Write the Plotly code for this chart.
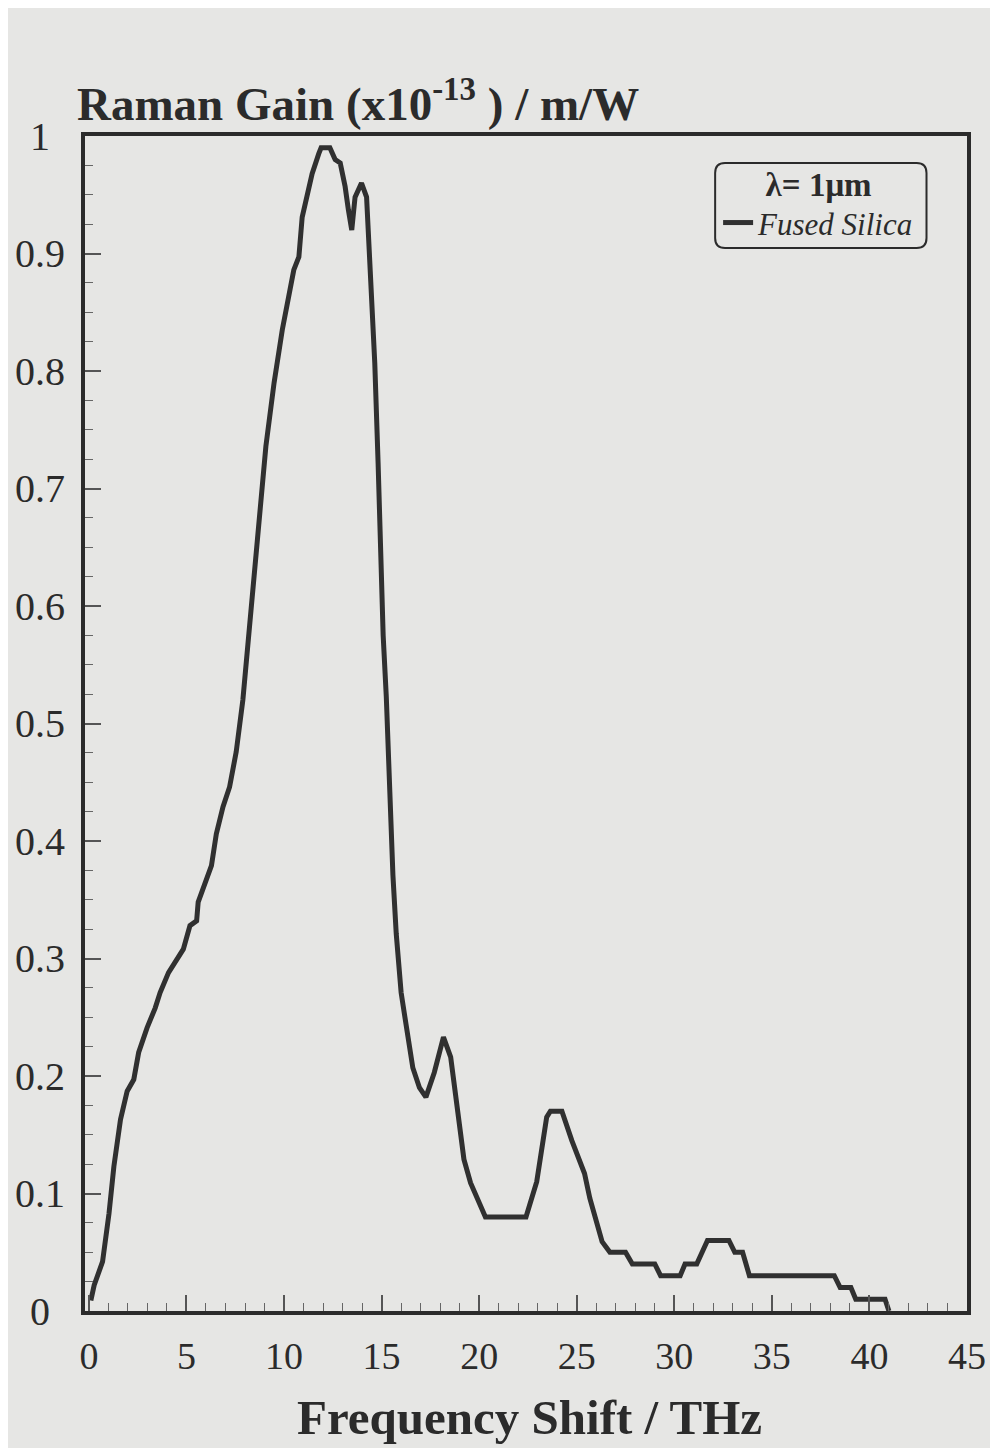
import plotly.graph_objects as go

# ---- data ----
freq_thz = [0.1, 0.27, 0.7, 1.03, 1.28, 1.62, 1.96, 2.3, 2.55, 2.98, 3.4, 3.65, 4.08, 4.5, 4.84,
            5.18, 5.52, 5.6, 5.94, 6.28, 6.53, 6.87, 7.21, 7.55, 7.89, 8.39, 8.73, 9.07, 9.49,
            9.91, 10.5, 10.76, 10.93, 11.44, 11.78, 11.9, 12.35, 12.62, 12.88, 13.13, 13.3,
            13.47, 13.64, 13.97, 14.23, 14.31, 14.48, 14.65, 14.82, 14.96, 15.08, 15.24, 15.42,
            15.58, 15.75, 16.0, 16.26, 16.6, 16.94, 17.27, 17.7, 18.17, 18.54, 18.88, 19.22,
            19.56, 19.98, 20.32, 22.4, 22.95, 23.46, 23.65, 24.24, 24.75, 25.4, 25.67, 26.3,
            26.7, 27.5, 27.85, 29.0, 29.3, 30.3, 30.55, 31.15, 31.4, 31.7, 32.8, 33.1, 33.5,
            33.85, 38.2, 38.5, 39.05, 39.3, 40.8, 41.0]
raman_gain = [0.009, 0.022, 0.042, 0.083, 0.123, 0.163, 0.187, 0.197, 0.22, 0.241, 0.258, 0.271,
              0.288, 0.30, 0.308, 0.328, 0.332, 0.348, 0.365, 0.379, 0.406, 0.429, 0.446, 0.476,
              0.52, 0.608, 0.679, 0.736, 0.79, 0.835, 0.886, 0.897, 0.931, 0.968, 0.985, 0.99,
              0.99, 0.98, 0.977, 0.957, 0.937, 0.92, 0.948, 0.96, 0.948, 0.92, 0.877, 0.807,
              0.722, 0.64, 0.575, 0.523, 0.438, 0.371, 0.321, 0.271, 0.243, 0.207, 0.19, 0.182,
              0.203, 0.233, 0.216, 0.173, 0.129, 0.109, 0.092, 0.08, 0.08, 0.11, 0.165, 0.17,
              0.17, 0.145, 0.117, 0.096, 0.059, 0.05, 0.05, 0.04, 0.04, 0.03, 0.03, 0.04, 0.04,
              0.05, 0.06, 0.06, 0.05, 0.05, 0.03, 0.03, 0.02, 0.02, 0.01, 0.01, 0.0]
series_name = "Fused Silica"
wavelength_label = "λ= 1μm"
x_tick_vals = [0, 5, 10, 15, 20, 25, 30, 35, 40, 45]
y_tick_vals = [0, 0.1, 0.2, 0.3, 0.4, 0.5, 0.6, 0.7, 0.8, 0.9, 1]
y_tick_text = ["0", "0.1", "0.2", "0.3", "0.4", "0.5", "0.6", "0.7", "0.8", "0.9", "1"]

FONT = "Liberation Serif"
INK = "#2b2b2b"
BG = "#e6e6e4"

fig = go.Figure()
fig.add_trace(go.Scatter(
    x=freq_thz, y=raman_gain, mode="lines", name=f"<i>{series_name}</i>",
    line=dict(color="#303030", width=5),
))

# the page has an 8px body margin, so the figure is laid out 8px smaller/shifted
OFF = 8
W, H = 998 - OFF, 1448 - OFF
L, T = 85 - OFF, 136 - OFF
pw, ph = 893, 1175
R, B = W - L - pw, H - T - ph

def px_x(p):  # page pixel -> paper x
    return (p - 85) / pw

def px_y(p):  # page pixel -> paper y
    return (1311 - p) / ph

fig.update_layout(
    width=W, height=H,
    margin=dict(l=L, r=R, t=T, b=B),
    paper_bgcolor=BG, plot_bgcolor=BG,
    font=dict(family=FONT, color=INK),
    showlegend=True,
    legend=dict(
        x=px_x(726), y=px_y(153),
        xanchor="left", yanchor="top",
        bgcolor="rgba(0,0,0,0)", borderwidth=0,
        title=dict(text=f"<b>{wavelength_label}</b>", side="top center",
                   font=dict(family=FONT, size=33, color=INK)),
        font=dict(family=FONT, size=31, color=INK),
        itemwidth=30, tracegroupgap=0,
    ),
)

fig.update_xaxes(
    range=[-0.2, 45], showgrid=False, zeroline=False,
    showline=True, linewidth=4, linecolor=INK, mirror=True,
    tickvals=x_tick_vals, ticks="inside", ticklen=16, tickwidth=1.5, tickcolor="#555",
    tickfont=dict(family=FONT, size=38, color=INK), ticklabelstandoff=8,
    minor=dict(dtick=1, ticks="inside", ticklen=8, tickwidth=1.2, tickcolor="#666"),
)
fig.update_yaxes(
    range=[0, 1], showgrid=False, zeroline=False,
    showline=True, linewidth=4, linecolor=INK, mirror=True,
    tickvals=y_tick_vals, ticks="inside", ticklen=16, tickwidth=1.5, tickcolor="#555",
    showticklabels=False,
    minor=dict(dtick=0.025, ticks="inside", ticklen=8, tickwidth=1.2, tickcolor="#666"),
)

# y tick labels, centred like the reference
for v, t in zip(y_tick_vals, y_tick_text):
    fig.add_annotation(x=0, xref="paper", y=v, yref="y", text=t, showarrow=False,
                       xanchor="center", yanchor="middle", xshift=-45,
                       font=dict(family=FONT, size=40, color=INK))

# axis titles
fig.add_annotation(x=0, xref="paper", y=1, yref="paper", xanchor="left", yanchor="bottom",
                   xshift=-10, yshift=4, showarrow=False,
                   text="<b>Raman Gain (x10<sup>-13</sup> ) / m/W</b>",
                   font=dict(family=FONT, size=47, color=INK))
fig.add_annotation(x=px_x(535), xref="paper", y=0, yref="paper", xanchor="center",
                   yanchor="middle", yshift=-106, showarrow=False,
                   text="<b>Frequency Shift / THz</b>",
                   font=dict(family=FONT, size=49, color=INK))

# rounded legend frame
x0, x1 = px_x(723), px_x(937)
y1, y0 = px_y(163), px_y(248)
rx, ry = 10 / pw, 10 / ph
path = (f"M {x0+rx},{y0} L {x1-rx},{y0} Q {x1},{y0} {x1},{y0+ry} L {x1},{y1-ry} "
        f"Q {x1},{y1} {x1-rx},{y1} L {x0+rx},{y1} Q {x0},{y1} {x0},{y1-ry} "
        f"L {x0},{y0+ry} Q {x0},{y0} {x0+rx},{y0} Z")
fig.add_shape(type="path", path=path, xref="paper", yref="paper",
              line=dict(color=INK, width=2), fillcolor="rgba(0,0,0,0)")

fig.write_html("out.html")
